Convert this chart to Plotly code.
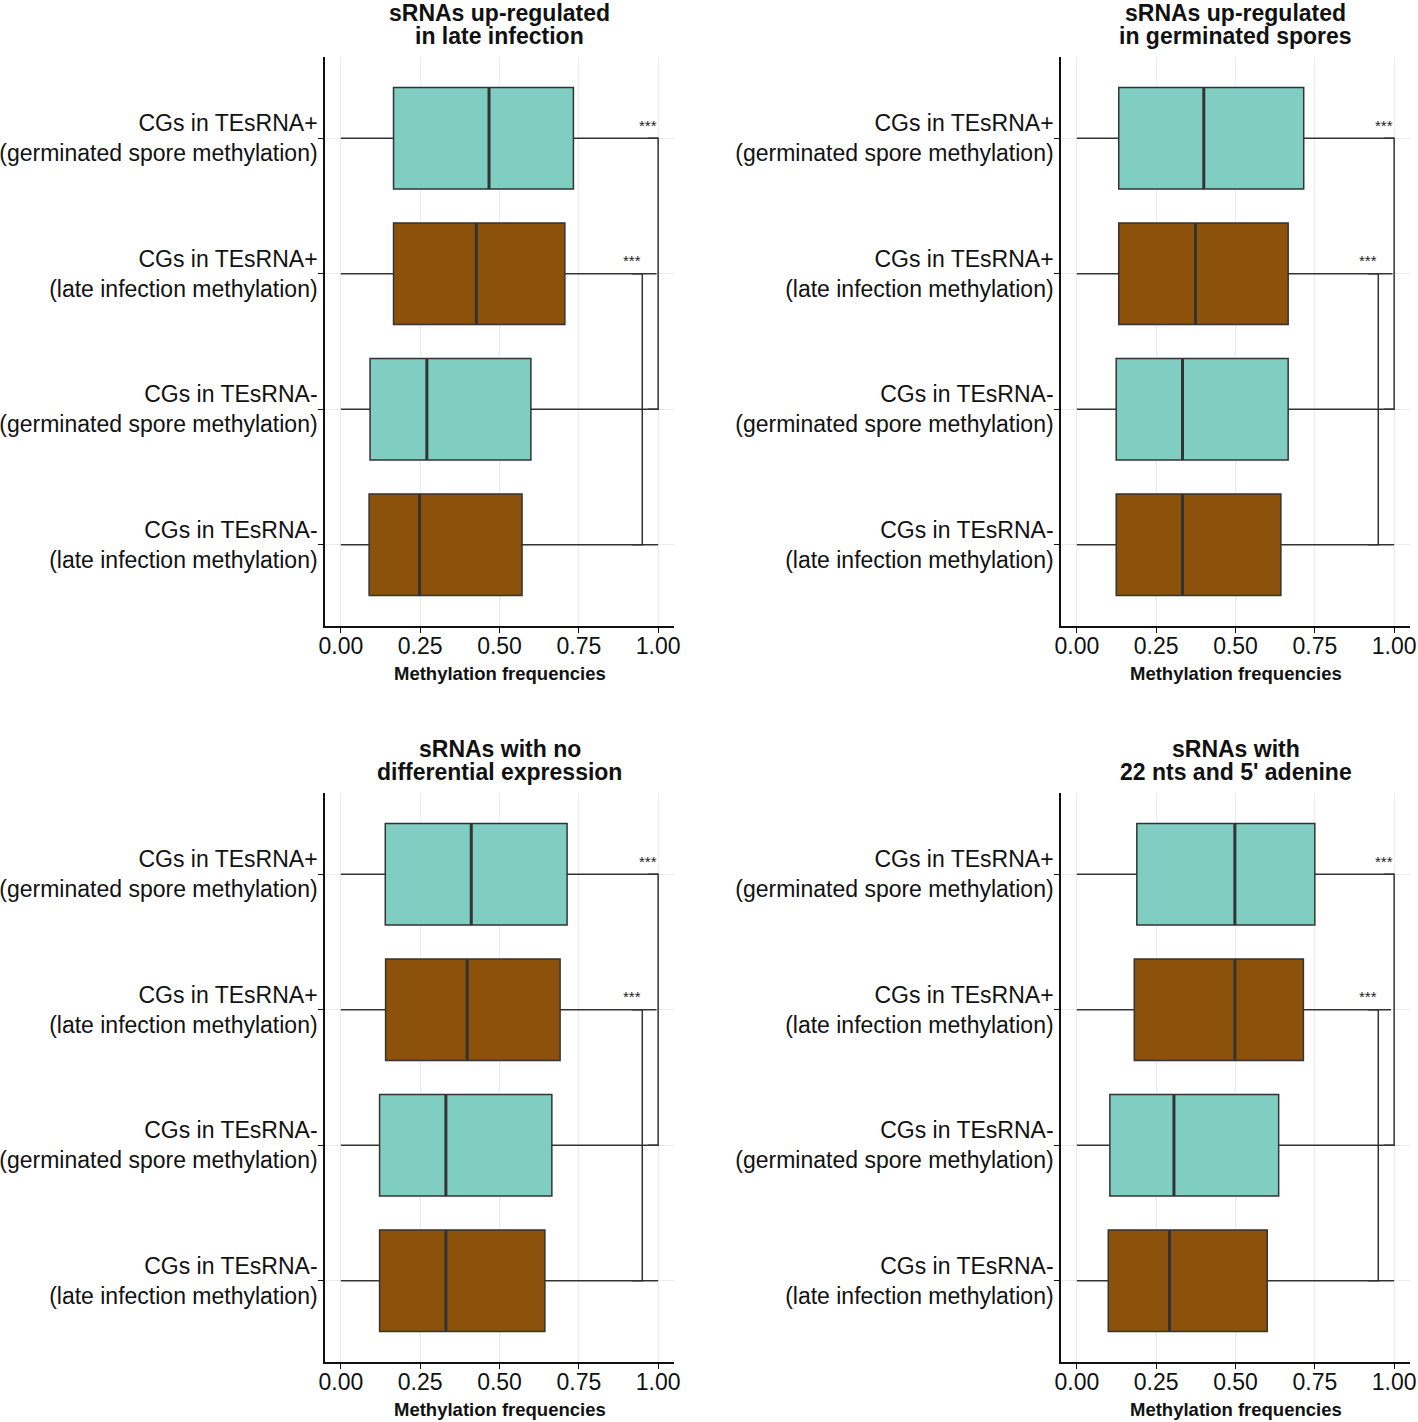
import plotly.graph_objects as go

W, H = 1418, 1422

categories = [
    "CGs in TEsRNA+<br>(germinated spore methylation)",
    "CGs in TEsRNA+<br>(late infection methylation)",
    "CGs in TEsRNA-<br>(germinated spore methylation)",
    "CGs in TEsRNA-<br>(late infection methylation)",
]
positions = [3, 2, 1, 0]
methylation_source = ["germinated", "late", "germinated", "late"]
panel_titles = [
    ("sRNAs up-regulated", "in late infection"),
    ("sRNAs up-regulated", "in germinated spores"),
    ("sRNAs with no", "differential expression"),
    ("sRNAs with", "22 nts and 5' adenine"),
]

# box statistics per panel (TL, TR, BL, BR), per category (top to bottom)
q1 = [
    [0.166, 0.166, 0.092, 0.089],
    [0.132, 0.132, 0.124, 0.124],
    [0.140, 0.141, 0.122, 0.122],
    [0.189, 0.181, 0.104, 0.099],
]
median = [
    [0.467, 0.427, 0.271, 0.248],
    [0.400, 0.374, 0.333, 0.333],
    [0.411, 0.398, 0.331, 0.331],
    [0.498, 0.498, 0.306, 0.292],
]
q3 = [
    [0.733, 0.706, 0.599, 0.571],
    [0.715, 0.666, 0.666, 0.643],
    [0.713, 0.691, 0.665, 0.643],
    [0.750, 0.714, 0.636, 0.600],
]
lower = [
    [0.0, 0.0, 0.0, 0.0],
    [0.0, 0.0, 0.0, 0.0],
    [0.0, 0.0, 0.0, 0.0],
    [0.0, 0.0, 0.0, 0.0],
]
upper = [
    [1.0, 0.995, 1.0, 1.0],
    [1.0, 0.995, 1.0, 1.0],
    [1.0, 0.995, 1.0, 1.0],
    [1.0, 0.99, 1.0, 1.0],
]

# significance brackets: category pairs, bracket position, label
sig_pairs = [(0, 2), (1, 3)]
sig_x = [1.0, 0.95]
sig_text = ["***", "***"]

x_ticks = [0, 0.25, 0.5, 0.75, 1.0]
x_title = "Methylation frequencies"

colors = {"germinated": "#80CDC1", "late": "#8C510A"}
line_col = "#333333"
FONT = "Liberation Sans, Arial, sans-serif"
TIP = 0.032
BOXW = 0.75

# plot areas in pixels (left, top)
col_left = [325, 1061]
row_top = [57, 793]
PW, PH = 349, 569


def px_x(v):
    return v / W


def px_y(v):
    return 1 - v / H


fig = go.Figure()
layout = dict(
    width=W, height=H, margin=dict(l=0, r=0, t=0, b=0),
    paper_bgcolor="white", plot_bgcolor="white",
    showlegend=False, font=dict(family=FONT, color="#111111"),
)
annotations = []

for p in range(4):
    r, c = divmod(p, 2)
    n = p + 1
    xa = "x" if n == 1 else f"x{n}"
    ya = "y" if n == 1 else f"y{n}"
    left, top = col_left[c], row_top[r]
    xdom = [px_x(left), px_x(left + PW)]
    ydom = [px_y(top + PH), px_y(top)]

    for k in range(4):
        fig.add_trace(go.Box(
            y=[positions[k]], q1=[q1[p][k]], median=[median[p][k]], q3=[q3[p][k]],
            lowerfence=[lower[p][k]], upperfence=[upper[p][k]],
            orientation="h", width=BOXW, whiskerwidth=0, boxpoints=False,
            fillcolor=colors[methylation_source[k]],
            line=dict(color=line_col, width=1.5),
            xaxis=xa, yaxis=ya, hoverinfo="skip",
        ))
        # thicker median as in ggplot
        fig.add_trace(go.Scatter(
            x=[median[p][k], median[p][k]],
            y=[positions[k] - BOXW / 2, positions[k] + BOXW / 2],
            mode="lines", line=dict(color=line_col, width=3),
            xaxis=xa, yaxis=ya, hoverinfo="skip",
        ))

    for (a, b), sx, txt in zip(sig_pairs, sig_x, sig_text):
        ya_pos, yb_pos = positions[a], positions[b]
        fig.add_trace(go.Scatter(
            x=[sx - TIP, sx, sx, sx - TIP],
            y=[ya_pos, ya_pos, yb_pos, yb_pos],
            mode="lines", line=dict(color=line_col, width=1.5),
            xaxis=xa, yaxis=ya, hoverinfo="skip",
        ))
        annotations.append(dict(
            x=sx - TIP, y=ya_pos, xref=xa, yref=ya, text=txt, showarrow=False,
            yanchor="middle", yshift=13, font=dict(size=15, color="#222222"),
        ))

    axis_common = dict(
        automargin=False,
        showgrid=True, gridcolor="#EBEBEB", gridwidth=1.2, zeroline=False,
        showline=True, linecolor="#111111", linewidth=1.6,
        ticks="outside", ticklen=5, tickcolor="#111111", tickwidth=1.3,
        tickfont=dict(size=23, color="#111111"),
    )
    layout["xaxis" if n == 1 else f"xaxis{n}"] = dict(
        domain=xdom, anchor=ya, range=[-0.05, 1.05],
        tickvals=x_ticks, tickformat=".2f", ticklabelstandoff=-6, **axis_common,
    )
    layout["yaxis" if n == 1 else f"yaxis{n}"] = dict(
        domain=ydom, anchor=xa, range=[-0.6, 3.6],
        tickvals=positions, ticktext=categories, ticklabelstandoff=-4, **axis_common,
    )

    cx = px_x(left + PW / 2)
    line1, line2 = panel_titles[p]
    annotations.append(dict(
        x=cx, y=px_y(top - 44), xref="paper", yref="paper", text=f"<b>{line1}</b>",
        showarrow=False, xanchor="center", yanchor="middle",
        font=dict(size=23, color="#111111"),
    ))
    annotations.append(dict(
        x=cx, y=px_y(top - 21), xref="paper", yref="paper", text=f"<b>{line2}</b>",
        showarrow=False, xanchor="center", yanchor="middle",
        font=dict(size=23, color="#111111"),
    ))
    annotations.append(dict(
        x=cx, y=px_y(top + PH + 47), xref="paper", yref="paper", text=f"<b>{x_title}</b>",
        showarrow=False, xanchor="center", yanchor="middle",
        font=dict(size=18.5, color="#111111"),
    ))

layout["annotations"] = annotations
fig.update_layout(**layout)
# drop the default 8px page margin so the figure fills the window exactly
fig.write_html("out.html", config={"displayModeBar": False},
               post_script="document.body.style.margin='0px';")
